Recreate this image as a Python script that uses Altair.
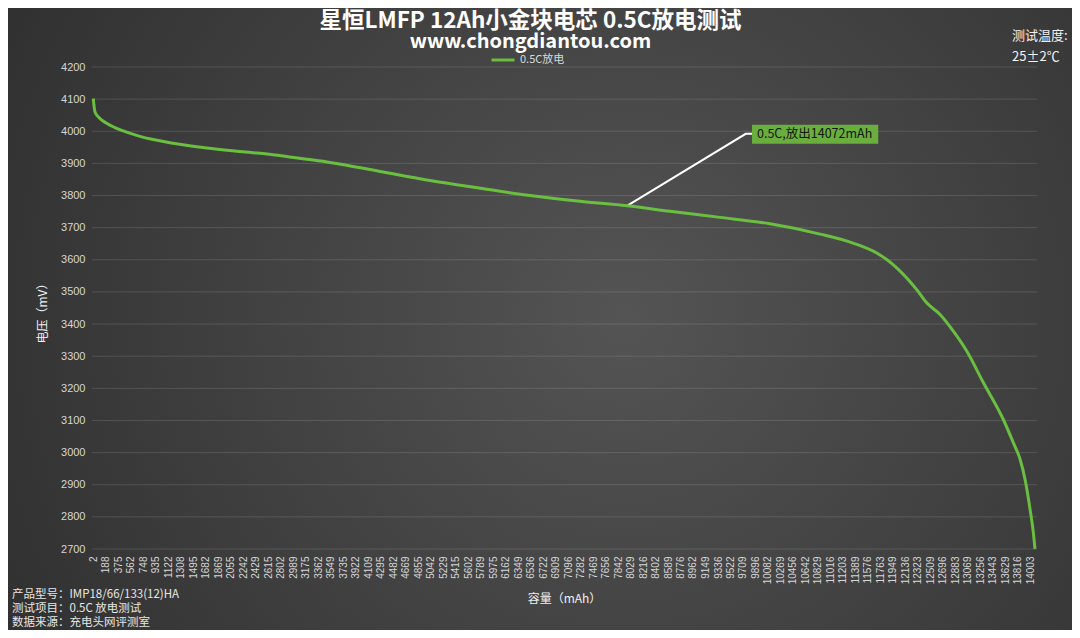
import altair as alt
import pandas as pd

# ---- data ----
capacity = [2, 10, 28, 90, 202, 450, 700, 1193, 1697, 2194, 2687, 3191, 3539, 4286,
            5033, 5780, 6527, 7274, 7976, 8619, 9366, 10113, 10860, 11353, 11707,
            11861, 12006, 12305, 12454, 12653, 12852, 13052, 13300, 13599, 13748,
            13848, 13923, 13998, 14047, 14072]
voltage = [4102, 4085, 4060, 4042, 4025, 4001, 3984, 3963, 3948, 3937, 3927, 3913, 3903, 3875,
           3847, 3823, 3800, 3782, 3768, 3751, 3732, 3712, 3680, 3652, 3621,
           3600, 3575, 3507, 3466, 3430, 3378, 3316, 3218, 3103, 3031,
           2980, 2917, 2824, 2752, 2700]
series_name = "0.5C放电"

x_ticks = [2, 188, 375, 562, 748, 935, 1122, 1308, 1495, 1682, 1869, 2055, 2242, 2429,
           2615, 2802, 2989, 3175, 3362, 3549, 3735, 3922, 4109, 4295, 4482, 4669, 4855,
           5042, 5229, 5415, 5602, 5789, 5975, 6162, 6349, 6536, 6722, 6909, 7096, 7282,
           7469, 7656, 7842, 8029, 8216, 8402, 8589, 8776, 8962, 9149, 9336, 9522, 9709,
           9896, 10082, 10269, 10456, 10642, 10829, 11016, 11203, 11389, 11576, 11763,
           11949, 12136, 12323, 12509, 12696, 12883, 13069, 13256, 13443, 13629, 13816,
           14003]
y_ticks = [2700, 2800, 2900, 3000, 3100, 3200, 3300, 3400, 3500, 3600, 3700, 3800,
           3900, 4000, 4100, 4200]

# annotation (leader line + label box, in data units)
anno_x = [7976, 9750, 9844]
anno_y = [3768, 3992, 3992]
anno_text = "0.5C,放出14072mAh"
box_x, box_x2 = [9844], [11730]
box_y, box_y2 = [4020], [3961]

title_text = "星恒LMFP 12Ah小金块电芯 0.5C放电测试"
subtitle_text = "www.chongdiantou.com"
info_lines = ["产品型号：IMP18/66/133(12)HA", "测试项目：0.5C 放电测试", "数据来源：充电头网评测室"]
temp_lines = ["测试温度:", "25±2℃"]

# ---- layout ----
W, H = 945, 482
PAD_L, PAD_T = 84, 59
TOTAL_W, TOTAL_H = 1064, 622
PAD_R = TOTAL_W - PAD_L - W
PAD_B = TOTAL_H - PAD_T - H

CJK = "Noto Sans CJK SC"
LAT = "Liberation Sans"
GREEN = "#6abf40"
LBL = "#d6d6d6"

xscale = alt.Scale(domain=[-17, 14102], nice=False, zero=False)
yscale = alt.Scale(domain=[2700, 4200], nice=False, zero=False)

x_axis = alt.Axis(values=x_ticks, format="d", labelAngle=-90, labelFontSize=10,
                  labelFont=LAT, labelColor=LBL, labelPadding=7,
                  labelOverlap=False, labelFlush=False, labelBound=False,
                  grid=False, ticks=False, domain=False, zindex=1,
                  title="容量（mAh）", titleFont=CJK, titleFontSize=12,
                  titleFontWeight="normal", titleColor="#f0f0f0",
                  titleX=472, titleY=49, titleAlign="center", titleBaseline="middle")
y_axis = alt.Axis(values=y_ticks, format="d", labelFontSize=11,
                  labelFont=LAT, labelColor=LBL, labelPadding=7,
                  labelOverlap=False, labelFlush=False, labelBound=False,
                  grid=False, ticks=False, domain=False,
                  zindex=1, title="电压（mV）", titleFont=CJK, titleFontSize=12,
                  titleFontWeight="normal", titleColor="#f0f0f0",
                  titleX=-50, titleY=243, titleAngle=-90,
                  titleAlign="center", titleBaseline="middle")

df = pd.DataFrame({"cap": capacity, "v": voltage, "series": series_name})
one = pd.DataFrame({"a": [0]})

bg = alt.Chart(one).mark_rect(
    fill=alt.Gradient(
        gradient="radial",
        stops=[alt.GradientStop(color="#545454", offset=0),
               alt.GradientStop(color="#2b2b2b", offset=1)],
        x1=0.58, y1=0.5, r1=0, x2=0.58, y2=0.5, r2=0.75,
    ),
    stroke=None,
).encode(
    x=alt.value(-PAD_L), x2=alt.value(W + PAD_R),
    y=alt.value(-PAD_T), y2=alt.value(H + PAD_B),
)

grid = alt.Chart(pd.DataFrame({"y": y_ticks})).mark_rule(
    color="#ffffff", opacity=0.13, strokeWidth=1
).encode(
    y=alt.Y("y:Q", scale=yscale, axis=y_axis),
    x=alt.value(0), x2=alt.value(W),
)

line = alt.Chart(df).mark_line(strokeWidth=3, interpolate="monotone").encode(
    x=alt.X("cap:Q", scale=xscale, axis=x_axis),
    y=alt.Y("v:Q", scale=yscale, axis=y_axis),
    color=alt.Color("series:N",
                    scale=alt.Scale(domain=[series_name], range=[GREEN]),
                    legend=alt.Legend(orient="none", legendX=398, legendY=-20,
                                      direction="horizontal", title=None,
                                      symbolType="stroke", symbolStrokeWidth=3,
                                      symbolSize=529, labelFontSize=11,
                                      labelColor="#d9d9d9", labelFont=CJK,
                                      labelOffset=4, zindex=1)),
)

anno_line = alt.Chart(pd.DataFrame({"x": anno_x, "y": anno_y, "o": [0, 1, 2]})).mark_line(
    color="#ffffff", strokeWidth=2
).encode(
    x=alt.X("x:Q", scale=xscale, axis=x_axis),
    y=alt.Y("y:Q", scale=yscale, axis=y_axis),
    order="o:O",
)

anno_box = alt.Chart(pd.DataFrame({"x": box_x, "x2": box_x2, "y": box_y, "y2": box_y2})).mark_rect(
    color="#6aae3e"
).encode(
    x=alt.X("x:Q", scale=xscale, axis=x_axis), x2="x2:Q",
    y=alt.Y("y:Q", scale=yscale, axis=y_axis), y2="y2:Q",
)

anno_label = alt.Chart(pd.DataFrame({"x": box_x, "y": [(box_y[0] + box_y2[0]) / 2], "t": [anno_text]})).mark_text(
    align="left", baseline="middle", dx=5, fontSize=12.5, font=CJK, color="#141414"
).encode(
    x=alt.X("x:Q", scale=xscale, axis=x_axis),
    y=alt.Y("y:Q", scale=yscale, axis=y_axis),
    text="t:N",
)

info_layers = []
for txt, ypos in zip(info_lines, [528, 542, 556]):
    info_layers.append(
        alt.Chart(pd.DataFrame({"t": [txt]})).mark_text(
            align="left", baseline="middle", fontSize=11.5, font=CJK, color="#e6e6e6"
        ).encode(x=alt.value(-80), y=alt.value(ypos), text="t:N")
    )

temp_layers = []
for txt, ypos in zip(temp_lines, [-31, -10]):
    temp_layers.append(
        alt.Chart(pd.DataFrame({"t": [txt]})).mark_text(
            align="left", baseline="middle", fontSize=13, font=CJK, color="#f2f2f2"
        ).encode(x=alt.value(920), y=alt.value(ypos), text="t:N")
    )

chart = alt.layer(bg, grid, anno_line, line, anno_box, anno_label, *info_layers, *temp_layers).properties(
    width=W, height=H,
    padding={"left": PAD_L, "top": PAD_T, "right": PAD_R, "bottom": PAD_B},
    autosize=alt.AutoSizeParams(type="none"),
    background="#3a3a3a",
    title=alt.TitleParams(text=title_text, subtitle=subtitle_text, anchor="middle",
                          dx=-34, dy=44, offset=0, font=CJK, fontSize=22.5, fontWeight="bold",
                          color="#ffffff", subtitleFont=CJK, subtitleFontSize=20,
                          subtitleFontWeight="bold", subtitleColor="#ffffff",
                          subtitlePadding=0, zindex=1),
).configure_view(stroke=None).configure_axis(labelOverlap=False)

chart.save("out.html", embed_options={"renderer": "svg", "actions": False})
